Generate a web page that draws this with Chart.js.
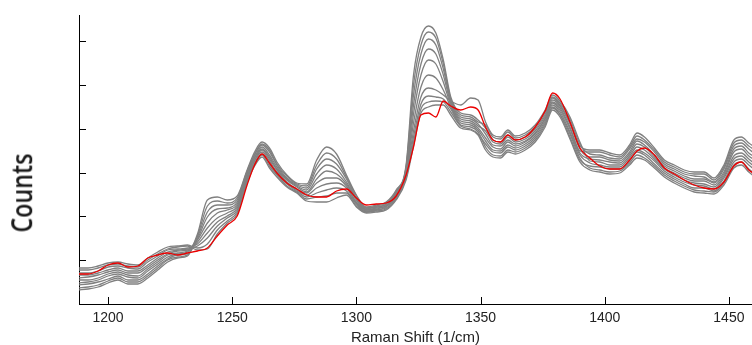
<!DOCTYPE html>
<html>
<head>
<meta charset="utf-8">
<script src="https://cdn.jsdelivr.net/npm/chart.js@4.4.1/dist/chart.umd.min.js"></script>
<style>
  body { margin: 0; background: #fff; }
  #wrap { position: relative; width: 752px; height: 345px; }
  #ytitle {
    position: absolute; left: 21px; top: 193px;
    transform: translate(-50%, -50%) rotate(-90deg) scale(0.97, 1.2);
    font: 600 24px "Open Sans", sans-serif; color: #1a1a1a; white-space: nowrap;
  }
</style>
</head>
<body>
<div id="wrap">
  <canvas id="myChart" width="752" height="345"></canvas>
  <div id="ytitle">Counts</div>
</div>
<script>
// raman shift (1/cm), shared by every spectrum
var shift = [1188, 1192, 1196, 1200, 1204, 1208, 1212, 1216, 1220, 1224, 1228, 1232,
  1236, 1240, 1244, 1248, 1252, 1256, 1259, 1262, 1265, 1268, 1272, 1276, 1280, 1284, 1288, 1292, 1296, 1300, 1304, 1308, 1312, 1316, 1320,
  1323, 1326, 1329, 1332, 1335, 1338, 1342, 1346, 1349,
  1352, 1355, 1358, 1361, 1364, 1368, 1372, 1376, 1379, 1382, 1386, 1390,
  1394, 1398, 1402, 1406, 1410, 1413, 1416, 1420, 1424, 1428, 1432, 1436, 1440, 1444, 1448, 1452, 1455, 1458, 1461];

// highlighted spectrum (red)
var highlight = [30, 30, 33, 39, 41, 37, 38, 46, 49, 51, 49, 51,
  53, 56, 68, 79, 88, 119, 139, 150, 141, 131, 121, 115, 109, 107, 107, 113, 115, 106, 99, 100, 101, 108, 129,
  157, 189, 191, 187, 203, 198, 194, 197, 194,
  177, 164, 162, 169, 164, 167, 177, 193, 211, 205, 182, 156,
  146, 138, 135, 135, 144, 153, 156, 149, 136, 130, 124, 119, 116, 115, 122, 138, 142, 134, 129];

// the other spectra (grey)
var s1 = [16, 17, 19, 23, 26, 22, 22, 28, 36, 44, 47, 49,
  70, 104, 107, 104, 108, 134, 152, 162, 156, 142, 129, 121, 120, 144, 157, 150, 129, 109, 97, 99, 102, 114, 139,
  229, 267, 278, 271, 244, 207, 191, 189, 184,
  176, 164, 162, 169, 164, 167, 175, 190, 206, 199, 182, 158,
  154, 154, 151, 149, 159, 171, 167, 156, 144, 139, 134, 132, 132, 126, 139, 164, 167, 161, 156];
var s2 = [14, 15, 17, 21, 24, 20, 20, 26, 34, 42, 46, 48,
  68, 98, 103, 101, 106, 133, 150, 160, 154, 140, 128, 120, 118, 139, 151, 145, 127, 108, 96, 98, 101, 113, 137,
  219, 259, 272, 266, 240, 205, 189, 187, 182,
  179, 167, 165, 172, 166, 169, 177, 192, 207, 201, 185, 160,
  150, 149, 146, 145, 155, 165, 162, 152, 140, 135, 130, 128, 127, 122, 135, 158, 161, 155, 149];
var s3 = [21, 22, 24, 28, 30, 27, 26, 33, 40, 47, 50, 52,
  67, 92, 99, 99, 104, 131, 149, 159, 152, 139, 126, 119, 116, 135, 145, 140, 125, 106, 96, 97, 100, 112, 136,
  209, 250, 265, 259, 235, 203, 187, 185, 180,
  170, 159, 158, 164, 160, 163, 171, 186, 202, 196, 177, 153,
  152, 152, 149, 147, 157, 168, 164, 154, 142, 137, 132, 130, 130, 124, 137, 161, 164, 158, 153];
var s4 = [19, 20, 22, 25, 28, 24, 24, 30, 38, 45, 49, 50,
  65, 87, 95, 96, 102, 130, 147, 157, 149, 137, 125, 118, 114, 130, 139, 135, 122, 105, 95, 97, 99, 111, 134,
  199, 240, 255, 250, 229, 201, 185, 183, 178,
  173, 162, 160, 167, 162, 165, 173, 188, 204, 198, 180, 155,
  147, 147, 144, 143, 152, 163, 159, 149, 138, 133, 128, 125, 125, 121, 132, 155, 158, 151, 146];
var s5 = [26, 27, 29, 32, 34, 31, 31, 37, 44, 50, 53, 54,
  64, 81, 91, 94, 100, 128, 146, 155, 147, 135, 124, 117, 112, 125, 133, 130, 120, 104, 94, 96, 98, 110, 132,
  190, 229, 244, 240, 222, 199, 183, 181, 176,
  166, 157, 155, 162, 158, 162, 170, 185, 201, 194, 175, 151,
  145, 144, 142, 141, 150, 160, 157, 147, 136, 131, 126, 123, 123, 119, 130, 152, 155, 148, 143];
var s6 = [24, 24, 26, 30, 32, 29, 28, 35, 42, 49, 51, 53,
  62, 76, 86, 91, 98, 127, 144, 154, 145, 134, 122, 115, 111, 121, 126, 126, 118, 102, 94, 95, 98, 108, 131,
  181, 217, 229, 226, 214, 197, 181, 179, 174,
  163, 154, 153, 159, 156, 160, 168, 183, 199, 192, 172, 149,
  141, 139, 137, 137, 146, 154, 151, 143, 133, 127, 122, 119, 118, 115, 126, 145, 148, 142, 136];
var s7 = [31, 31, 33, 37, 38, 36, 35, 42, 48, 54, 55, 56,
  60, 71, 82, 88, 96, 125, 143, 152, 143, 132, 121, 114, 109, 116, 120, 121, 116, 101, 93, 94, 97, 107, 129,
  173, 207, 216, 214, 209, 203, 199, 206, 204,
  182, 169, 167, 174, 168, 171, 179, 194, 209, 203, 187, 162,
  143, 142, 139, 139, 148, 157, 154, 145, 135, 129, 124, 121, 120, 117, 128, 148, 151, 145, 139];
var s8 = [29, 29, 31, 34, 36, 33, 33, 39, 46, 52, 54, 55,
  58, 66, 78, 86, 94, 124, 141, 150, 140, 130, 120, 113, 107, 111, 114, 116, 113, 100, 92, 94, 96, 106, 127,
  167, 200, 208, 207, 205, 195, 179, 177, 172,
  157, 149, 148, 154, 152, 156, 164, 179, 196, 189, 167, 144,
  138, 137, 135, 135, 143, 152, 149, 140, 131, 125, 120, 116, 116, 113, 123, 142, 145, 139, 133];
var s9 = [36, 36, 38, 41, 42, 40, 39, 46, 52, 57, 58, 59,
  56, 60, 74, 83, 92, 122, 140, 149, 138, 129, 118, 112, 105, 107, 108, 111, 111, 98, 92, 93, 95, 105, 126,
  162, 195, 202, 203, 202, 192, 178, 175, 170,
  160, 152, 151, 157, 154, 158, 166, 181, 197, 190, 170, 146,
  136, 134, 132, 133, 141, 149, 146, 138, 129, 123, 118, 114, 113, 112, 121, 139, 142, 135, 129];
var s10 = [34, 34, 36, 39, 40, 38, 37, 44, 50, 55, 57, 58,
  54, 55, 70, 81, 90, 121, 138, 147, 136, 127, 117, 111, 103, 102, 102, 106, 109, 97, 91, 92, 94, 104, 124,
  158, 191, 197, 199, 199, 189, 176, 174, 169,
  154, 147, 146, 152, 150, 154, 162, 177, 194, 187, 165, 142,
  134, 132, 130, 131, 139, 146, 144, 136, 127, 121, 116, 112, 111, 110, 119, 136, 139, 132, 126];

var xTicks = [1200, 1250, 1300, 1350, 1400, 1450];
var yTicks = [43.8, 87.6, 131.4, 175.2, 219, 262.8];

function pts(vals) {
    return shift.map(function(x, i){ return {x: x, y: vals[i]}; });
}

var datasets = [{
    data: pts(highlight),
    borderColor: 'rgb(235, 0, 0)',
    borderWidth: 1.3
}];
[s1, s2, s3, s4, s5, s6, s7, s8, s9, s10].forEach(function(s){
    datasets.push({ data: pts(s), borderColor: 'rgb(128, 128, 128)', borderWidth: 1.3 });
});

// short tick marks pointing into the plot
var innerTicks = {
    id: 'innerTicks',
    afterDraw: function(chart) {
        var ctx = chart.ctx, a = chart.chartArea, sx = chart.scales.x, sy = chart.scales.y;
        ctx.save();
        ctx.strokeStyle = '#000';
        ctx.lineWidth = 1;
        ctx.beginPath();
        xTicks.forEach(function(v){
            var p = Math.round(sx.getPixelForValue(v)) + 0.5;
            ctx.moveTo(p, a.bottom); ctx.lineTo(p, a.bottom - 7);
        });
        yTicks.forEach(function(v){
            var p = Math.round(sy.getPixelForValue(v)) + 0.5;
            ctx.moveTo(a.left, p); ctx.lineTo(a.left + 7, p);
        });
        ctx.stroke();
        ctx.restore();
    }
};

var ctx = document.getElementById('myChart').getContext('2d');
var myChart = new Chart(ctx, {
    type: 'line',
    data: { datasets: datasets },
    options: {
        responsive: false,
        animation: false,
        layout: { padding: { top: 15, right: 0, left: 0, bottom: 0 } },
        elements: {
            point: { radius: 0 },
            line: { cubicInterpolationMode: 'monotone' }
        },
        plugins: { legend: { display: false }, tooltip: { enabled: false } },
        scales: {
            x: {
                type: 'linear',
                min: 1188.3,
                max: 1459.3,
                afterBuildTicks: function(s){ s.ticks = xTicks.map(function(v){ return {value: v}; }); },
                afterFit: function(s){ s.height = 41; },
                grid: { display: true, drawOnChartArea: false, drawTicks: false },
                border: { display: true, color: '#000', width: 1 },
                ticks: {
                    padding: 6,
                    color: '#222',
                    font: { family: 'Liberation Sans', size: 14 },
                    maxRotation: 0,
                    autoSkip: false,
                    callback: function(v){ return String(v); }
                },
                title: {
                    display: true,
                    text: 'Raman Shift (1/cm)',
                    color: '#222',
                    font: { family: 'Liberation Sans', size: 15, lineHeight: 1 },
                    padding: { top: 0, bottom: 0 }
                }
            },
            y: {
                min: 0,
                max: 289,
                afterFit: function(s){ s.width = 79; },
                grid: { display: true, drawOnChartArea: false, drawTicks: false },
                border: { display: true, color: '#000', width: 1 },
                ticks: { display: false }
            }
        }
    },
    plugins: [innerTicks]
});
</script>
</body>
</html>
